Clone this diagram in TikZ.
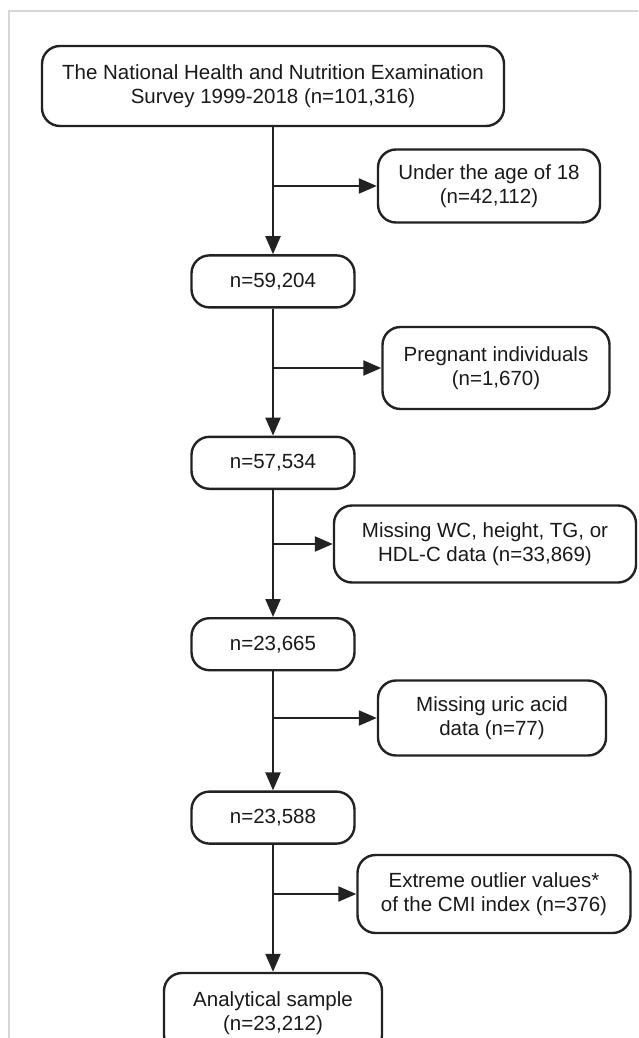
\documentclass[tikz,border=0pt]{standalone}
\usepackage{fontspec}
\setmainfont{Liberation Sans}
\usetikzlibrary{positioning,chains,arrows.meta}

\definecolor{linec}{RGB}{34,34,34}
\definecolor{textc}{RGB}{25,25,25}
\definecolor{framec}{RGB}{215,215,215}

\begin{document}
\begin{tikzpicture}[x=1pt, y=-1pt,
    box/.style={draw=linec, line width=2.4pt, rounded corners=18pt, align=center,
      text=textc, inner sep=0pt, font=\fontsize{20.5}{24.5}\selectfont},
    nbox/.style={box, minimum width=163pt, minimum height=52pt},
    >={Triangle[length=18pt,width=15pt]}, start chain=going below, node distance=127pt]

  \useasboundingbox (0,0) rectangle (638,1038);
  \draw[framec, line width=1.2pt] (638,11) -- (9,11) -- (9,1038);

  % main column
  \node[box,on chain,minimum width=462pt,minimum height=80pt] (all) at (273,86)
    {The National Health and Nutrition Examination\\Survey 1999-2018 (n=101,316)};
  \node[nbox,on chain] (adult) {n=59,204};
  \node[nbox,on chain] (nonpreg) {n=57,534};
  \node[nbox,on chain] (measured) {n=23,665};
  \node[nbox,on chain,yshift=8pt] (uric) {n=23,588};
  \node[box,on chain,minimum width=218pt,minimum height=80pt] (sample)
    {Analytical sample\\(n=23,212)};

  % exclusions
  \node[box,minimum width=222pt,minimum height=73pt] (ex1) at (489,186)
    {Under the age of 18\\(n=42,112)};
  \node[box,minimum width=227pt,minimum height=82pt] (ex2) at (496,368)
    {Pregnant individuals\\(n=1,670)};
  \node[box,minimum width=302pt,minimum height=77pt] (ex3) at (485,544)
    {Missing WC, height, TG, or\\HDL-C data (n=33,869)};
  \node[box,minimum width=228pt,minimum height=75pt] (ex4) at (492,718)
    {Missing uric acid\\data (n=77)};
  \node[box,minimum width=273pt,minimum height=78pt] (ex5) at (494,894)
    {Extreme outlier values*\\of the CMI index (n=376)};

  \foreach \a/\b in {all/adult, adult/nonpreg, nonpreg/measured, measured/uric, uric/sample}
    \draw[linec, line width=2.2pt, ->] (\a) -- (\b);
  \foreach \a/\e in {all/ex1, adult/ex2, nonpreg/ex3, measured/ex4, uric/ex5}
    \draw[linec, line width=2.2pt, ->] (\a.south |- \e.west) -- (\e.west);

\end{tikzpicture}
\end{document}
